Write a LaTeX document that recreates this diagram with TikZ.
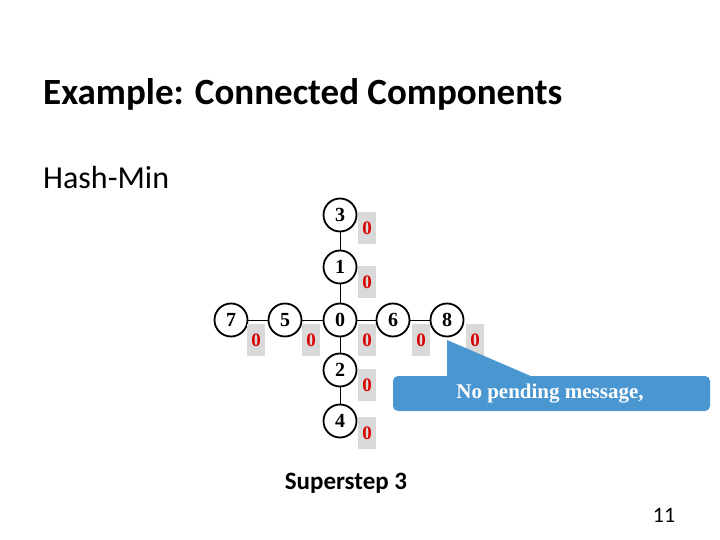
\documentclass[tikz,border=0pt]{standalone}
\usepackage{fontspec}
\setmainfont{Carlito}
\newfontfamily\serifb{Liberation Serif}
\begin{document}
\begin{tikzpicture}[x=1pt,y=-1pt,
  vert/.style={circle,draw,line width=1.8pt,minimum size=33pt,inner sep=0pt,font=\serifb\bfseries\fontsize{20}{20}\selectfont},
  val/.style={fill=black!15,minimum width=18pt,minimum height=32pt,inner sep=0pt,text=red!85!black,font=\serifb\bfseries\fontsize{19}{19}\selectfont},
  edge/.style={line width=0.8pt}]
\useasboundingbox (0,0) rectangle (720,540);
\node[anchor=west,inner sep=0pt,font=\bfseries\fontsize{37}{37}\selectfont] (title) at (43,94) {Example: Connected Components};
\node[anchor=west,inner sep=0pt,font=\fontsize{32}{32}\selectfont] (hm) at (43,178) {Hash-Min};
\node[vert] (n3) at (340,215) {3};
\node[vert] (n1) at (340,267) {1};
\node[vert] (n0) at (340,320) {0};
\node[vert] (n2) at (340,370) {2};
\node[vert] (n4) at (340,421) {4};
\node[vert] (n7) at (231,320) {7};
\node[vert] (n5) at (285,320) {5};
\node[vert] (n6) at (393,320) {6};
\node[vert] (n8) at (447,320) {8};
\draw[edge] (n3)--(n1) (n1)--(n0) (n0)--(n2) (n2)--(n4) (n7)--(n5) (n5)--(n0) (n0)--(n6) (n6)--(n8);
\node[val] (v3) at (367,228) {0};
\node[val] (v1) at (367,282) {0};
\node[val] (v7) at (256,340) {0};
\node[val] (v5) at (311,340) {0};
\node[val] (v0) at (367,340) {0};
\node[val] (v6) at (421,340) {0};
\node[val] (v8) at (475,340) {0};
\node[val] (v2) at (367,385) {0};
\node[val] (v4) at (367,433) {0};
\fill[fill={rgb,255:red,74;green,150;blue,208},rounded corners=5pt] (393,376) rectangle (710,411);
\fill[fill={rgb,255:red,74;green,150;blue,208}] (447,340) -- (447,380) -- (540,380) -- cycle;
\node[text=white,font=\serifb\bfseries\fontsize{21}{21}\selectfont] (msg) at (550,394) {No pending message,};
\node[font=\bfseries\fontsize{25}{25}\selectfont] (ss) at (346,483) {Superstep 3};
\node[font=\fontsize{22}{22}\selectfont] (pg) at (664,515) {11};
\end{tikzpicture}
\end{document}
